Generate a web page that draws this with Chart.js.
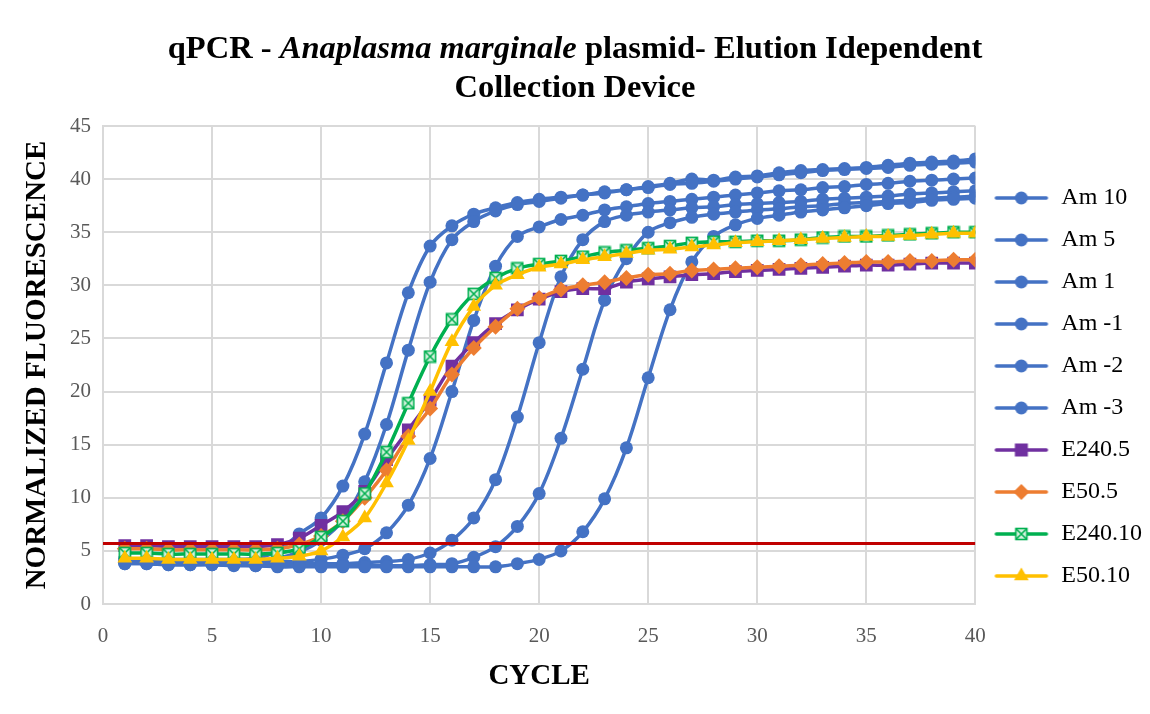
<!DOCTYPE html>
<html><head><meta charset="utf-8">
<script src="https://cdn.jsdelivr.net/npm/chart.js@4.4.1/dist/chart.umd.min.js"></script>
<style>
html,body{margin:0;padding:0;background:#fff;}
#wrap{position:relative;width:1150px;height:714px;overflow:hidden;}
#title{position:absolute;left:0;top:28px;width:1150px;text-align:center;font-family:'Liberation Serif',serif;font-weight:bold;font-size:32.5px;line-height:39px;color:#000;z-index:2;}
canvas{position:absolute;left:0;top:0;}
</style></head><body>
<div id="wrap"><canvas id="c" width="1150" height="714"></canvas><div id="title">qPCR - <i>Anaplasma marginale</i> plasmid- Elution Idependent<br>Collection Device</div></div>
<script>
const cycles = [1,2,3,4,5,6,7,8,9,10,11,12,13,14,15,16,17,18,19,20,21,22,23,24,25,26,27,28,29,30,31,32,33,34,35,36,37,38,39,40];
const xTicks = [0,5,10,15,20,25,30,35,40];
const yTicks = [0,5,10,15,20,25,30,35,40,45];
const seriesNames = ['Am 10','Am 5','Am 1','Am -1','Am -2','Am -3','E240.5','E50.5','E240.10','E50.10'];

const am10 = [4.3,4.2,4.2,4.2,4.2,4.2,4.3,5.0,6.6,8.1,11.1,16.0,22.7,29.3,33.7,35.6,36.7,37.3,37.8,38.1,38.3,38.5,38.7,39.0,39.3,39.6,40.0,39.9,40.2,40.3,40.6,40.8,40.9,41.0,41.1,41.3,41.5,41.6,41.7,41.9];
const am5 = [4.1,4.1,4.0,4.0,4.0,4.0,4.1,4.3,4.9,6.0,7.9,11.5,16.9,23.9,30.3,34.3,36.0,37.0,37.6,37.9,38.2,38.5,38.8,39.0,39.2,39.5,39.6,39.8,40.0,40.2,40.4,40.6,40.8,40.9,41.0,41.1,41.3,41.4,41.5,41.6];
const am1 = [4.0,4.0,4.0,3.9,3.9,3.9,3.9,4.0,4.0,4.2,4.6,5.2,6.7,9.3,13.7,20.0,26.7,31.8,34.6,35.5,36.2,36.6,37.1,37.4,37.7,37.9,38.1,38.3,38.5,38.7,38.9,39.0,39.2,39.3,39.5,39.6,39.8,39.9,40.0,40.1];
const amM1 = [3.9,3.9,3.8,3.8,3.8,3.8,3.8,3.8,3.8,3.8,3.8,3.9,4.0,4.2,4.8,6.0,8.1,11.7,17.6,24.6,30.8,34.3,36.0,36.6,36.9,37.1,37.3,37.4,37.6,37.7,37.8,37.9,38.1,38.2,38.3,38.4,38.6,38.7,38.8,38.9];
const amM2 = [3.8,3.8,3.7,3.7,3.7,3.7,3.6,3.6,3.6,3.6,3.6,3.6,3.6,3.6,3.7,3.8,4.4,5.4,7.3,10.4,15.6,22.1,28.6,32.5,35.0,35.9,36.4,36.7,36.9,37.1,37.2,37.4,37.5,37.7,37.8,37.9,38.0,38.2,38.3,38.4];
const amM3 = [3.8,3.8,3.7,3.7,3.7,3.6,3.6,3.5,3.5,3.5,3.5,3.5,3.5,3.5,3.5,3.5,3.5,3.5,3.8,4.2,5.0,6.8,9.9,14.7,21.3,27.7,32.2,34.6,35.7,36.3,36.6,36.9,37.1,37.3,37.5,37.7,37.8,38.0,38.1,38.2];
const e240_5 = [5.5,5.5,5.4,5.4,5.4,5.4,5.4,5.6,6.2,7.4,8.7,10.6,13.6,16.4,19.2,22.4,24.6,26.4,27.7,28.7,29.4,29.7,29.7,30.3,30.6,30.8,31.0,31.1,31.3,31.4,31.5,31.6,31.7,31.8,31.9,31.9,32.0,32.1,32.1,32.1];
const e50_5 = [5.2,5.2,5.1,5.1,5.1,5.1,5.1,5.2,5.6,6.4,7.8,10.0,12.6,15.8,18.4,21.6,24.1,26.1,27.8,28.8,29.6,30.0,30.3,30.7,31.0,31.1,31.4,31.5,31.6,31.7,31.8,31.9,32.0,32.1,32.2,32.2,32.3,32.3,32.4,32.4];
const e240_10 = [4.8,4.8,4.7,4.7,4.7,4.7,4.7,4.8,5.2,6.3,7.8,10.4,14.3,18.9,23.3,26.8,29.2,30.7,31.6,32.0,32.3,32.7,33.1,33.3,33.5,33.7,34.0,34.1,34.1,34.2,34.2,34.3,34.5,34.6,34.6,34.7,34.8,34.9,35.0,35.0];
const e50_10 = [4.3,4.3,4.2,4.2,4.2,4.2,4.2,4.3,4.5,5.0,6.3,8.1,11.4,15.4,20.0,24.7,28.0,30.0,31.0,31.7,32.0,32.4,32.7,33.0,33.3,33.4,33.6,33.8,34.0,34.1,34.2,34.3,34.4,34.5,34.6,34.6,34.7,34.8,34.9,34.9];
const thresholdX = [0, 40];
const thresholdY = 5.7;

const seriesValues = [am10, am5, am1, amM1, amM2, amM3, e240_5, e50_5, e240_10, e50_10];
const BLUE = '#4472C4', PURPLE = '#7030A0', ORANGE = '#ED7D31', GREEN = '#00B050', YELLOW = '#FFC000', RED = '#C00000';
const colors = [BLUE, BLUE, BLUE, BLUE, BLUE, BLUE, PURPLE, ORANGE, GREEN, YELLOW];

function boxX(size) {
  const c = document.createElement('canvas');
  c.width = size; c.height = size;
  const g = c.getContext('2d');
  g.fillStyle = '#d6f2df';
  g.fillRect(1, 1, size - 2, size - 2);
  g.strokeStyle = GREEN; g.lineWidth = 1.6;
  g.strokeRect(1.5, 1.5, size - 3, size - 3);
  g.beginPath(); g.moveTo(2, 2); g.lineTo(size - 2, size - 2); g.moveTo(size - 2, 2); g.lineTo(2, size - 2); g.stroke();
  return c;
}
const greenMarker = boxX(14);

const pointStyles = ['circle','circle','circle','circle','circle','circle','rect','rectRot', greenMarker, 'triangle'];
const pointRadii = [6.5,6.5,6.5,6.5,6.5,6.5,9,8,7,8.5];

function makeIcon(i) {
  const c = document.createElement('canvas');
  c.width = 56; c.height = 20;
  const g = c.getContext('2d');
  g.strokeStyle = colors[i]; g.lineWidth = 3.5; g.lineCap = 'round';
  g.beginPath(); g.moveTo(3, 10); g.lineTo(53, 10); g.stroke();
  g.fillStyle = colors[i];
  const st = pointStyles[i];
  const cx = 28, cy = 10;
  g.beginPath();
  if (st === 'circle') { g.arc(cx, cy, 6.5, 0, Math.PI * 2); g.fill(); }
  else if (st === 'rect') { g.fillRect(cx - 6.5, cy - 6.5, 13, 13); }
  else if (st === 'rectRot') { g.moveTo(cx, cy - 8); g.lineTo(cx + 8, cy); g.lineTo(cx, cy + 8); g.lineTo(cx - 8, cy); g.closePath(); g.fill(); }
  else if (st === 'triangle') { const r = 8.5; g.moveTo(cx, cy - r); g.lineTo(cx + r * Math.sin(2.0944), cy - r * Math.cos(2.0944)); g.lineTo(cx - r * Math.sin(2.0944), cy - r * Math.cos(2.0944)); g.closePath(); g.fill(); }
  else { g.drawImage(st, cx - 7, cy - 7); }
  return c;
}

const datasets = seriesNames.map((name, i) => ({
  label: name,
  data: cycles.map((c, k) => ({x: c, y: seriesValues[i][k]})),
  borderColor: colors[i],
  backgroundColor: colors[i],
  pointBackgroundColor: colors[i],
  pointBorderColor: colors[i],
  pointBorderWidth: 0,
  pointStyle: pointStyles[i],
  pointRadius: pointRadii[i],
  pointHoverRadius: pointRadii[i],
  borderWidth: 3.5,
  tension: 0.35,
  order: 10 - i
}));
datasets.push({
  label: '',
  data: thresholdX.map(x => ({x: x, y: thresholdY})),
  borderColor: RED,
  backgroundColor: RED,
  borderWidth: 3,
  pointRadius: 0,
  tension: 0,
  order: 0
});

const icons = seriesNames.map((_, i) => makeIcon(i));
const FONT = "'Liberation Serif', 'Times New Roman', serif";

new Chart(document.getElementById('c'), {
  type: 'line',
  data: { datasets },
  options: {
    responsive: false,
    animation: false,
    layout: { padding: { top: 126, left: 0, right: -2, bottom: 0 } },
    plugins: {
      tooltip: { enabled: false },
      title: { display: false },
      legend: {
        position: 'right',
        align: 'start',
        title: { display: true, text: ' ', font: { size: 10 }, padding: { top: 30, bottom: 0 } },
        labels: {
          usePointStyle: true,
          pointStyleWidth: 56,
          padding: 18,
          color: '#000',
          font: { family: FONT, size: 24 },
          generateLabels: (chart) => seriesNames.map((n, i) => ({
            text: n, pointStyle: icons[i], fillStyle: colors[i], strokeStyle: colors[i],
            lineWidth: 0, hidden: false, datasetIndex: i, fontColor: '#000'
          }))
        }
      }
    },
    scales: {
      x: {
        type: 'linear', min: 0, max: 40,
        afterBuildTicks: (s) => { s.ticks = xTicks.map(v => ({value: v})); },
        ticks: { font: { family: FONT, size: 21 }, color: '#595959', padding: 20 },
        grid: { color: '#D9D9D9', lineWidth: 2, drawTicks: false },
        border: { color: '#D9D9D9', width: 2 },
        title: { display: true, text: 'CYCLE', color: '#000', font: { family: FONT, size: 29, weight: 'bold' }, padding: { top: 0, bottom: 20 } },
        afterFit: (s) => { s.height = 110; }
      },
      y: {
        min: 0, max: 45,
        afterBuildTicks: (s) => { s.ticks = yTicks.map(v => ({value: v})); },
        ticks: { font: { family: FONT, size: 21 }, color: '#595959', padding: 12 },
        grid: { color: '#D9D9D9', lineWidth: 2, drawTicks: false },
        border: { color: '#D9D9D9', width: 2 },
        title: { display: true, text: 'NORMALIZED FLUORESCENCE', color: '#000', font: { family: FONT, size: 29, weight: 'bold' }, padding: { top: 20, bottom: 0 } },
        afterFit: (s) => { s.width = 103; }
      }
    }
  }
});
</script>
</body></html>
